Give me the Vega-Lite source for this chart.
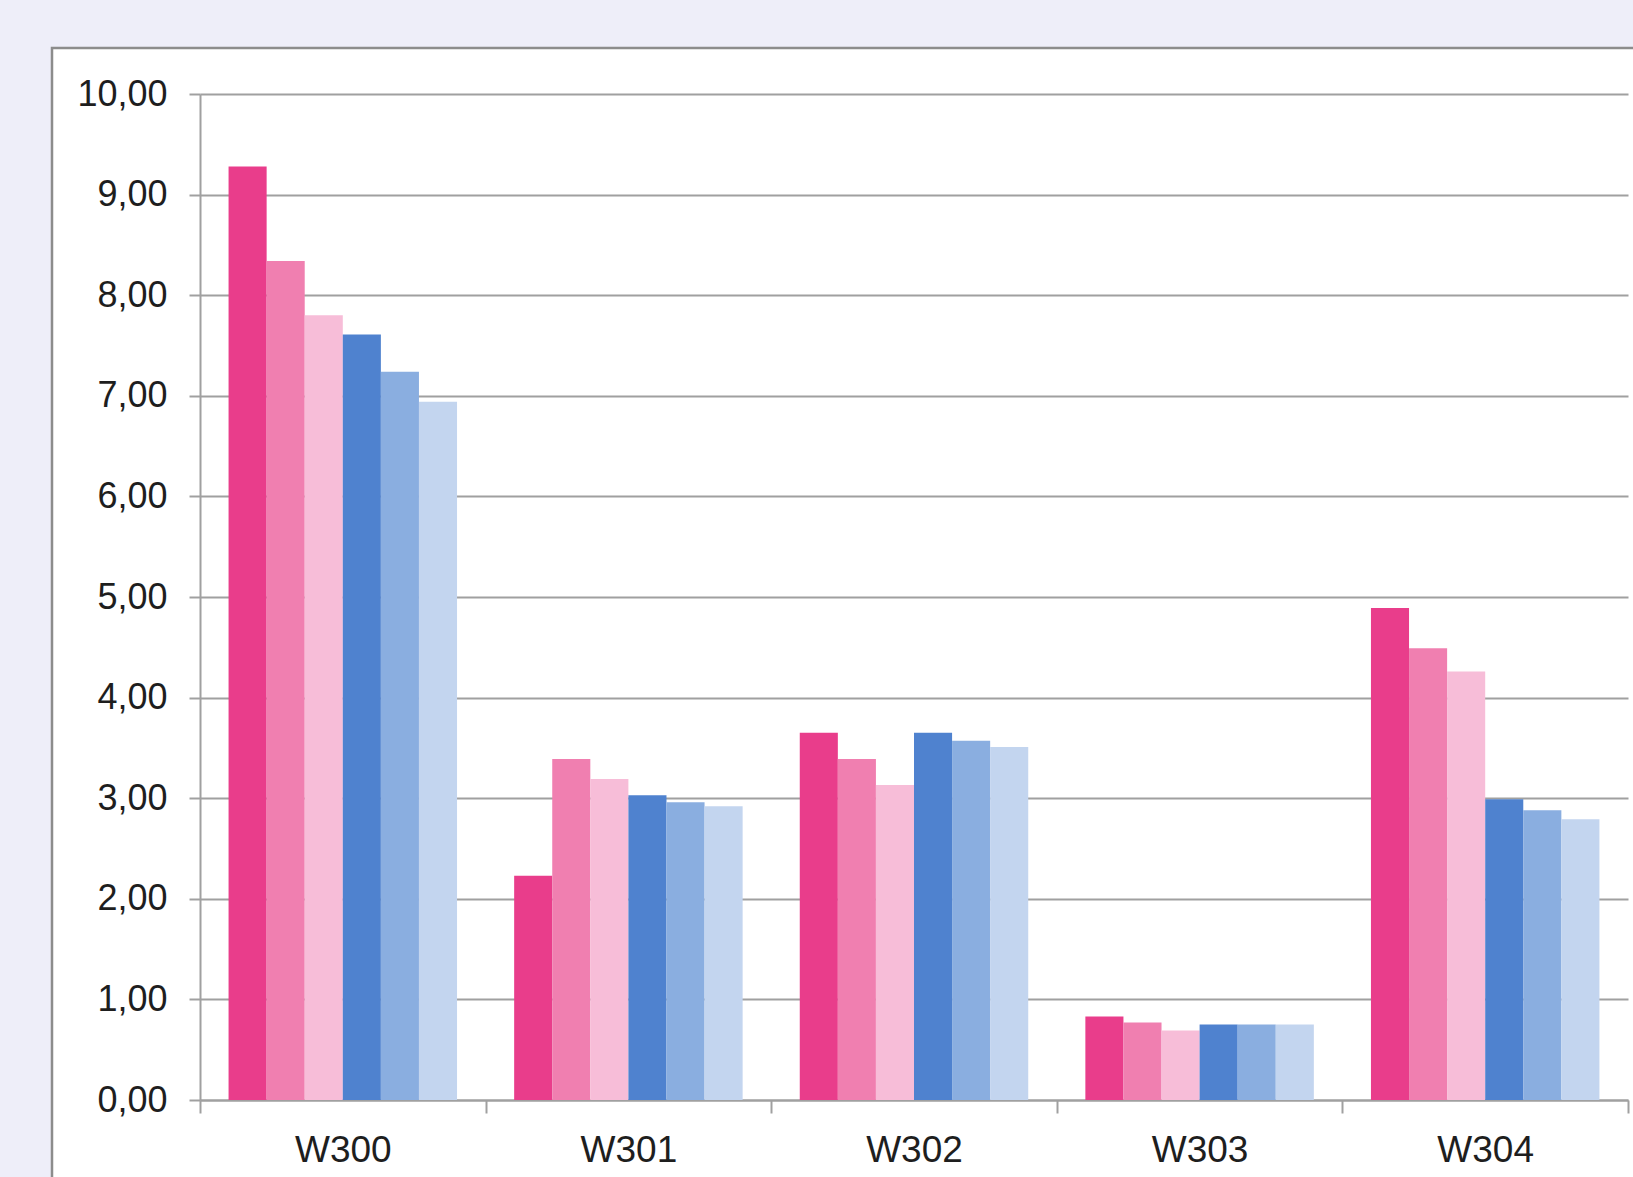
{
  "$schema": "https://vega.github.io/schema/vega-lite/v6.json",
  "autosize": {"type": "none"},
  "padding": {"left": 52, "top": 48, "right": 0, "bottom": 0},
  "width": 1591,
  "height": 1139,
  "background": "#eeeef9",
  "config": {
    "view": {"fill": "#ffffff", "stroke": "#8c8c8c", "strokeWidth": 2.5},
    "font": "Liberation Sans"
  },
  "data": {
    "values": [
      {"cat": "W300", "series": "S1", "value": 9.28},
      {"cat": "W300", "series": "S2", "value": 8.34},
      {"cat": "W300", "series": "S3", "value": 7.80},
      {"cat": "W300", "series": "S4", "value": 7.61},
      {"cat": "W300", "series": "S5", "value": 7.24},
      {"cat": "W300", "series": "S6", "value": 6.94},
      {"cat": "W301", "series": "S1", "value": 2.23},
      {"cat": "W301", "series": "S2", "value": 3.39},
      {"cat": "W301", "series": "S3", "value": 3.19},
      {"cat": "W301", "series": "S4", "value": 3.03},
      {"cat": "W301", "series": "S5", "value": 2.96},
      {"cat": "W301", "series": "S6", "value": 2.92},
      {"cat": "W302", "series": "S1", "value": 3.65},
      {"cat": "W302", "series": "S2", "value": 3.39},
      {"cat": "W302", "series": "S3", "value": 3.13},
      {"cat": "W302", "series": "S4", "value": 3.65},
      {"cat": "W302", "series": "S5", "value": 3.57},
      {"cat": "W302", "series": "S6", "value": 3.51},
      {"cat": "W303", "series": "S1", "value": 0.83},
      {"cat": "W303", "series": "S2", "value": 0.77},
      {"cat": "W303", "series": "S3", "value": 0.69},
      {"cat": "W303", "series": "S4", "value": 0.75},
      {"cat": "W303", "series": "S5", "value": 0.75},
      {"cat": "W303", "series": "S6", "value": 0.75},
      {"cat": "W304", "series": "S1", "value": 4.89},
      {"cat": "W304", "series": "S2", "value": 4.49},
      {"cat": "W304", "series": "S3", "value": 4.26},
      {"cat": "W304", "series": "S4", "value": 2.99},
      {"cat": "W304", "series": "S5", "value": 2.88},
      {"cat": "W304", "series": "S6", "value": 2.79}
    ]
  },
  "mark": {"type": "bar"},
  "encoding": {
    "x": {
      "field": "cat",
      "type": "nominal",
      "scale": {"range": [148, 1576], "paddingInner": 0, "paddingOuter": 0},
      "axis": {
        "title": null,
        "orient": "bottom",
        "offset": -87,
        "labelAngle": 0,
        "labelFontSize": 37,
        "labelColor": "#1e1e1e",
        "labelPadding": 19,
        "tickBand": "extent",
        "tickSize": 13,
        "tickColor": "#a0a0a0",
        "tickWidth": 2,
        "domainColor": "#a0a0a0",
        "domainWidth": 2,
        "grid": false
      }
    },
    "xOffset": {
      "field": "series",
      "type": "nominal",
      "scale": {"paddingInner": 0, "paddingOuter": 0.75}
    },
    "y": {
      "field": "value",
      "type": "quantitative",
      "scale": {"domain": [0, 10], "nice": false, "range": [1052, 46]},
      "axis": {
        "title": null,
        "offset": -148,
        "values": [0, 1, 2, 3, 4, 5, 6, 7, 8, 9, 10],
        "labelExpr": "replace(format(datum.value, '.2f'), '.', ',')",
        "labelFontSize": 36,
        "labelColor": "#1e1e1e",
        "labelPadding": 22,
        "tickSize": 11,
        "tickColor": "#a0a0a0",
        "tickWidth": 2,
        "domainColor": "#a0a0a0",
        "domainWidth": 2,
        "grid": true,
        "gridColor": "#a0a0a0",
        "gridWidth": 2
      }
    },
    "color": {
      "field": "series",
      "type": "nominal",
      "scale": {
        "domain": ["S1", "S2", "S3", "S4", "S5", "S6"],
        "range": ["#e93d8b", "#f07fb0", "#f7bdd8", "#4f82cf", "#8aaee0", "#c3d5ef"]
      },
      "legend": null
    }
  }
}
